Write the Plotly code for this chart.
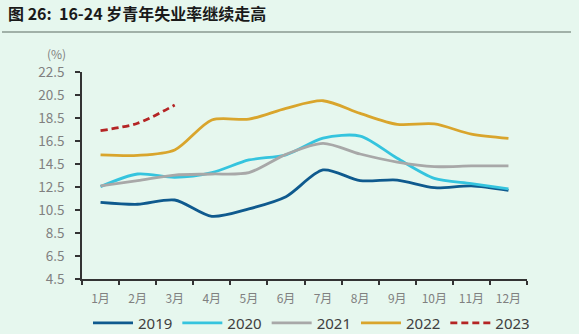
import plotly.graph_objects as go

months = ["1月", "2月", "3月", "4月", "5月", "6月", "7月", "8月", "9月", "10月", "11月", "12月"]
y2019 = [11.17, 11.0, 11.37, 9.95, 10.6, 11.66, 13.98, 13.05, 13.1, 12.44, 12.6, 12.2]
y2020 = [12.53, 13.63, 13.34, 13.75, 14.85, 15.3, 16.75, 16.93, 15.0, 13.25, 12.8, 12.33]
y2021 = [12.6, 13.05, 13.54, 13.63, 13.75, 15.34, 16.3, 15.37, 14.67, 14.27, 14.33, 14.33]
y2022 = [15.3, 15.25, 15.72, 18.33, 18.4, 19.34, 20.0, 18.9, 17.95, 17.98, 17.1, 16.73]
y2023 = [17.4, 18.04, 19.63]
series_names = ["2019", "2020", "2021", "2022", "2023"]
ytick_vals = [4.5, 6.5, 8.5, 10.5, 12.5, 14.5, 16.5, 18.5, 20.5, 22.5]
title_text = "图 26:  16-24 岁青年失业率继续走高"

colors = ["#0f5a8e", "#35c4de", "#a8a8a8", "#d9a52c", "#b42424"]
data = [y2019, y2020, y2021, y2022, y2023]

bg = "#e6f7ee"
fig = go.Figure()
for name, vals, col in zip(series_names, data, colors):
    fig.add_trace(go.Scatter(
        x=months[:len(vals)], y=vals, name=name, mode="lines",
        line=dict(color=col, width=2.8, shape="spline", smoothing=0.8,
                  dash="7px,4px" if name == "2023" else "solid"),
    ))

fig.update_layout(
    width=579, height=334,
    margin=dict(l=82, r=52, t=72, b=55, autoexpand=False),
    paper_bgcolor=bg, plot_bgcolor=bg,
    font=dict(family="Noto Sans CJK SC, sans-serif", color="#808080", size=13),
    showlegend=True,
    legend=dict(orientation="h", x=(88 - 82) / 445, xanchor="left", y=-0.213, yanchor="middle",
                font=dict(size=15, color="#404040", family="Noto Sans, sans-serif"),
                itemwidth=40, tracegroupgap=0, bgcolor="rgba(0,0,0,0)"),
    xaxis=dict(type="category", range=[-0.5, 11.5], tickson="boundaries",
               ticks="outside", ticklen=4, tickcolor="#333", tickwidth=1.5,
               showline=True, linecolor="#333", linewidth=1.5, showgrid=False,
               ticklabelstandoff=8,
               tickfont=dict(size=12, color="#808080"), zeroline=False),
    yaxis=dict(range=[4.5, 22.5], tickvals=ytick_vals,
               ticktext=[f"{v:.1f}" for v in ytick_vals],
               ticks="outside", ticklen=5, tickcolor="#333", tickwidth=1.5,
               showline=True, linecolor="#333", linewidth=1.5, showgrid=False,
               ticklabelstandoff=8,
               zeroline=False, tickfont=dict(size=13.5, color="#808080")),
    shapes=[dict(type="line", xref="paper", yref="paper",
                 x0=(2 - 82) / 445, x1=(571 - 82) / 445,
                 y0=(279 - 32) / 207, y1=(279 - 32) / 207,
                 line=dict(color="#8a9a90", width=1.5))],
    annotations=[
        dict(text="<b>" + title_text + "</b>", xref="paper", yref="paper",
             x=(6 - 82) / 445, y=(279 - 13) / 207, xanchor="left", yanchor="middle",
             showarrow=False, font=dict(size=16, color="#1a1a1a",
                                        family="Noto Sans CJK SC, sans-serif")),
        dict(text="(%)", xref="paper", yref="paper",
             x=(68 - 82) / 445, y=(279 - 53) / 207, xanchor="right", yanchor="middle",
             showarrow=False, font=dict(size=12, color="#808080")),
    ],
)

fig.write_html("out.html")
